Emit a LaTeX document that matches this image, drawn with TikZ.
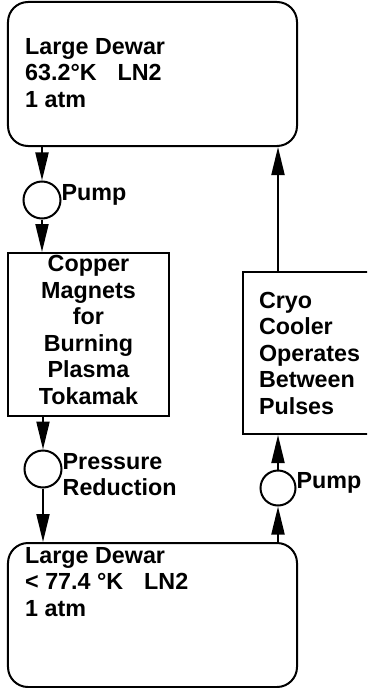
\documentclass[tikz,border=0pt]{standalone}
\usepackage{fontspec}
\setmainfont{Liberation Sans}
\usepackage{tikz}
\usetikzlibrary{arrows.meta, positioning}

\begin{document}
\begin{tikzpicture}[
  x=1bp, y=-1bp,
  font=\fontsize{23.3bp}{26.5bp}\selectfont\bfseries,
  dewar/.style={
    rectangle, rounded corners=20bp,
    minimum width=289bp, minimum height=144bp,
    draw, line width=2bp
  },
  unit/.style={
    rectangle, inner sep=0pt,
    draw, line width=2bp
  },
  pump/.style={
    circle, minimum size=37bp, inner sep=0pt,
    draw, line width=2bp
  },
  lbl/.style={inner sep=0pt, align=left},
  arr/.style={-{Triangle[length=28bp, width=13bp]}, line width=2bp},
]
\useasboundingbox (0,0) rectangle (367,688);
\clip (0,0) rectangle (367,688);

\node[dewar] (topDewar) at (152.5,74) {};
\node[lbl, anchor=north west] (topTxt) at (25,38)
                      {Large Dewar\\
                       63.2°K\hspace{0.9em}LN2\\
                       1 atm};

\node[unit, minimum width=161bp, minimum height=163bp,
      align=center, text depth=9bp] (copper) at (88.5,334.5)
                      {Copper\\Magnets\\for\\Burning\\Plasma\\Tokamak};

\node[unit, minimum width=135bp, minimum height=162bp,
      text width=103bp, align=left] (cryo) at (310.5,353)
                      {Cryo\\Cooler\\Operates\\Between\\Pulses};

\node[dewar] (botDewar) at (152.5,615) {};
\node[lbl, anchor=north west] (botTxt) at (25,547)
                      {Large Dewar\\
                       < 77.4 °K\hspace{0.9em}LN2\\
                       1 atm};

\node[pump] (pumpA) at (42,200) {};
\node[pump] (pumpB) at (43,469) {};
\node[pump, minimum size=35bp] (pumpC) at (278,488) {};

\node[lbl, anchor=base west] (pumpALbl) at (pumpA.east) {Pump};
\node[lbl, anchor=base west, yshift=-26.5bp] (pumpBLbl) at (pumpB.east)
                      {Pressure\\Reduction};
\node[lbl, anchor=base west] (pumpCLbl) at (pumpC.east) {Pump};

\draw[arr] (pumpA |- topDewar.south) -- (pumpA.north);
\draw[arr] (pumpA.south) -- (pumpA |- copper.north);
\draw[arr] (pumpB |- copper.south) -- (pumpB.north);
\draw[arr] (pumpB.south) -- (pumpB |- botDewar.north);
\draw[arr] (pumpC |- botDewar.north) -- (pumpC.south);
\draw[arr] (pumpC.north) -- (pumpC |- cryo.south);
\draw[arr] (pumpC |- cryo.north) -- (pumpC |- topDewar.south);

\end{tikzpicture}
\end{document}
